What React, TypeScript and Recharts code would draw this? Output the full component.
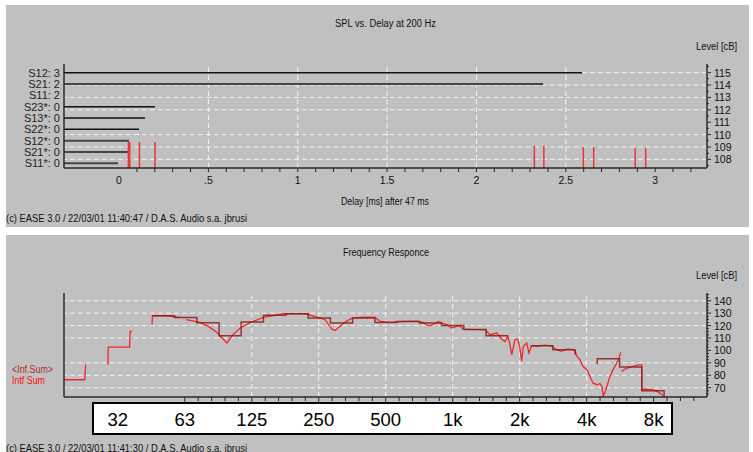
import React from 'react';
import { ComposedChart, XAxis, YAxis, ReferenceLine, Line } from 'recharts';

const FONT = 'Arial, "Liberation Sans", sans-serif';

// ---------- Top chart: SPL vs. Delay at 200 Hz ----------
// index 0 = bottom row
const arrivalLabels = ['S11*: 0', 'S21*: 0', 'S12*: 0', 'S22*: 0', 'S13*: 0', 'S23*: 0', 'S11: 2', 'S21: 2', 'S12: 3'];
const arrivalDelaysMs: (number | null)[] = [-0.006, 0.05, 0.056, 0.112, 0.145, 0.201, null, 2.373, 2.591];
const reflectionDelaysMs = [0.052, 0.06, 0.114, 0.201, 2.324, 2.377, 2.598, 2.656, 2.888, 2.947];
const reflectionLevelsDb = [109.4, 109.4, 109.4, 109.4, 109.1, 109.1, 109.0, 109.0, 108.9, 108.9];
const delayTicks = [0, 0.1, 0.2, 0.3, 0.4, 0.5, 0.6, 0.7, 0.8, 0.9, 1, 1.1, 1.2, 1.3, 1.4, 1.5, 1.6, 1.7, 1.8, 1.9, 2, 2.1, 2.2, 2.3, 2.4, 2.5, 2.6, 2.7, 2.8, 2.9, 3, 3.1, 3.2];
const delayLabelValues = [0, 0.5, 1, 1.5, 2, 2.5, 3];
const delayLabelTexts = ['0', '.5', '1', '1.5', '2', '2.5', '3'];
const delayGrid = [0.5, 1, 1.5, 2, 2.5];
const splTicks = [107.5, 108, 108.5, 109, 109.5, 110, 110.5, 111, 111.5, 112, 112.5, 113, 113.5, 114, 114.5, 115, 115.5];
const splGrid = [108, 109, 110, 112, 113, 114, 115];
const DELAY_DOMAIN: [number, number] = [-0.308, 3.29];
const SPL_DOMAIN: [number, number] = [107.3, 115.7];
const ROW_DOMAIN: [number, number] = [-0.415, 8.77];

// ---------- Bottom chart: Frequency Responce ----------
// 1/3-octave band edges (Hz) and band levels (dB); null = band not drawn
const bandEdgeHz = [44.7, 56.2, 70.8, 89.1, 112, 141, 178, 224, 282, 355, 447, 562, 708, 891, 1122, 1413, 1778, 1779, 2239, 2818, 3548, 3549, 4466, 4467, 5623, 7079, 8913];
const bandLevelDb: (number | null)[] = [127.9, 126.4, 122.2, 111.8, 122.8, 128.2, 129.5, 126.0, 122.0, 126.0, 122.5, 123.3, 122.0, 120.1, 116.8, 111.8, 111.8, null, 103.8, 100.6, 96.5, null, 89.3, 93.3, 86.6, 67.6, 62.5];

const responseHz = [17.9, 22.2, 22.4, 25, 28.2, 28.3, 35.3, 35.5, 36.3, 40, 44.5, 44.7, 51.5, 55.6, 59.6, 61.5, 63.4, 69.4, 73.3, 79.9, 87.4, 96.6, 102, 110.8, 125, 141, 173, 217, 253, 267, 286, 296, 312, 328, 353, 400, 448, 472, 523, 610, 698, 740, 764, 790, 818, 862, 900, 940, 990, 1040, 1078, 1112, 1200, 1397, 1471, 1577, 1660, 1718, 1767, 1809, 1841, 1905, 1959, 2006, 2042, 2076, 2150, 2202, 2264, 2400, 2600, 2794, 2900, 3088, 3252, 3436, 3544, 3618, 3732, 3850, 4012, 4138, 4269, 4450, 4591, 4686, 4751, 4884, 5091, 5252, 5416, 5587, 5645, 5704, 5730, 5744, 5945, 6261, 6944, 7066, 7080, 7311, 7861, 8277, 8627, 8808];
const responseDb: (number | null)[] = [76.4, 76.4, 88.5, null, 88.7, 102.7, 102.7, 115.3, 115.3, null, 120.7, 127.9, 127.9, 127.2, 126.3, null, 124.7, 123.3, 122.5, 119.3, 114.2, 106.0, 111.8, 118.0, 122.9, 126.6, 129.5, 129.5, 126.1, 124.7, 117.2, 116.1, 119.5, 122.8, 126.0, 126.8, 126.6, 123.3, 122.5, 123.3, 123.3, 122.4, 120.3, 119.9, 121.0, 123.3, 121.8, 120.7, 118.0, 119.3, 119.9, 117.2, 116.9, 116.7, 112.6, 114.0, 109.2, 107.2, 111.3, 104.6, 96.5, 108.6, 109.2, 101.9, 91.2, 103.2, 106.0, 97.9, 103.8, 103.2, 104.2, 103.4, 101.0, 99.2, 101.1, 100.9, 99.5, 95.2, 92.5, 87.0, 84.5, 79.1, 73.8, 72.4, 73.2, 71.1, 63.0, 68.4, 79.1, 84.5, 88.5, 93.9, 96.5, 98.4, null, 83.1, 85.0, 86.6, 88.5, 88.5, 68.4, 68.9, 68.4, 67.0, 65.2, 63.6];

const freqMajorHz = [31.25, 62.5, 125, 250, 500, 1000, 2000, 4000, 8000];
const freqLabels = ['32', '63', '125', '250', '500', '1k', '2k', '4k', '8k'];
const freqGridHz = [125, 250, 500, 1000, 2000, 4000];
const FREQ_DOMAIN: [number, number] = [17.9, 13900];
const freqMinorHz = freqMajorHz
  .filter((f) => f >= 62.5)
  .flatMap((f) => [1, 2, 3, 4].map((k) => f * Math.pow(2, k / 5)))
  .filter((f) => f < FREQ_DOMAIN[1]);
const freqTicks = [...freqMajorHz, ...freqMinorHz].sort((a, b) => a - b);
const dbTicks = [65, 67.5, 70, 72.5, 75, 77.5, 80, 82.5, 85, 87.5, 90, 92.5, 95, 97.5, 100, 102.5, 105, 107.5, 110, 112.5, 115, 117.5, 120, 122.5, 125, 127.5, 130, 132.5, 135, 137.5, 140, 142.5, 145];
const dbGrid = [70, 80, 90, 110, 120, 130, 140];
const DB_DOMAIN: [number, number] = [62.5, 146.2];

const stepData = bandEdgeHz.map((f, i) => ({ f, v: bandLevelDb[i] }));
const responseData = responseHz.map((f, i) => ({ f, v: responseDb[i] }));

const AXIS = '#2a2a2a';
const GRID = '#f2f2f2';

const DelayTick = (p: any) => {
  const { x, y, payload } = p;
  const v = payload.value;
  const idx = delayLabelValues.indexOf(v);
  return (
    <g>
      {v > 0.05 && <line x1={x} y1={y} x2={x} y2={y + 4} stroke={AXIS} strokeWidth={1} />}
      {idx >= 0 && (
        <text x={x} y={y + 15.5} textAnchor="middle" fontSize={10.5} fontFamily={FONT} fill="#111">
          {delayLabelTexts[idx]}
        </text>
      )}
    </g>
  );
};

const makeRightTick = (step: number) => (p: any) => {
  const { x, y, payload } = p;
  const v = payload.value;
  const major = Math.abs(v / step - Math.round(v / step)) < 1e-9;
  return (
    <g>
      <line x1={x} y1={y} x2={x + (major ? 4 : 2)} y2={y} stroke={AXIS} strokeWidth={1} />
      {major && (
        <text x={x + 7} y={y + 4} textAnchor="start" fontSize={10.5} fontFamily={FONT} fill="#111">
          {v}
        </text>
      )}
    </g>
  );
};
const SplTick = makeRightTick(1);
const DbTick = makeRightTick(10);

const FreqTick = (p: any) => {
  const { x, y, payload } = p;
  const v = payload.value;
  const idx = freqMajorHz.indexOf(v);
  return (
    <g>
      {v >= 60 && <line x1={x} y1={y} x2={x} y2={y + (idx >= 0 ? 5 : 4)} stroke={AXIS} strokeWidth={1} />}
      {idx >= 0 && (
        <text x={x} y={y + 28.7} textAnchor="middle" fontSize={18.5} fontFamily={FONT} fill="#000">
          {freqLabels[idx]}
        </text>
      )}
    </g>
  );
};

const axisLine = { stroke: AXIS, strokeWidth: 1.5 };

function DelayChart() {
  return (
    <ComposedChart width={743} height={222} margin={{ top: 59, right: 0, bottom: 29, left: 0 }}>
      <XAxis
        type="number"
        dataKey="x"
        domain={DELAY_DOMAIN}
        allowDataOverflow
        ticks={delayTicks}
        interval={0}
        tick={(p: any) => <DelayTick {...p} />}
        tickLine={false}
        tickSize={0}
        tickMargin={0}
        axisLine={axisLine}
        height={30}
      />
      <YAxis
        yAxisId="lab"
        type="number"
        domain={ROW_DOMAIN}
        allowDataOverflow
        ticks={[0, 1, 2, 3, 4, 5, 6, 7, 8]}
        interval={0}
        tickFormatter={(v: number) => arrivalLabels[v]}
        tick={{ fontSize: 11, fill: '#222', fontFamily: FONT }}
        tickLine={false}
        tickSize={0}
        tickMargin={4}
        axisLine={axisLine}
        width={58}
      />
      <YAxis
        yAxisId="lvl"
        orientation="right"
        type="number"
        domain={SPL_DOMAIN}
        allowDataOverflow
        ticks={splTicks}
        interval={0}
        tick={(p: any) => <SplTick {...p} />}
        tickLine={false}
        tickSize={0}
        tickMargin={0}
        axisLine={axisLine}
        width={42}
      />
      {splGrid.map((v) => (
        <ReferenceLine key={'h' + v} yAxisId="lvl" y={v} stroke={GRID} strokeDasharray="5 3" />
      ))}
      {delayGrid.map((d) => (
        <ReferenceLine key={'v' + d} yAxisId="lvl" x={d} stroke={GRID} strokeDasharray="5 3" />
      ))}
      {arrivalDelaysMs.map((d, i) =>
        d == null ? null : (
          <ReferenceLine
            key={'a' + i}
            yAxisId="lab"
            ifOverflow="visible"
            segment={[
              { x: DELAY_DOMAIN[0], y: i },
              { x: d, y: i },
            ]}
            stroke={i === 7 || i <= 2 ? '#454545' : '#111'}
            strokeWidth={i === 7 || i <= 2 ? 2 : 1.5}
          />
        )
      )}
      {reflectionDelaysMs.map((d, i) => (
        <ReferenceLine
          key={'r' + i}
          yAxisId="lvl"
          ifOverflow="visible"
          segment={[
            { x: d, y: SPL_DOMAIN[0] },
            { x: d, y: reflectionLevelsDb[i] },
          ]}
          stroke="#ec3434"
          strokeWidth={1.5}
        />
      ))}
    </ComposedChart>
  );
}

function FrequencyChart() {
  return (
    <ComposedChart width={743} height={217} margin={{ top: 58, right: 0, bottom: 25, left: 0 }}>
      <XAxis
        type="number"
        dataKey="f"
        scale="log"
        domain={FREQ_DOMAIN}
        allowDataOverflow
        ticks={freqTicks}
        interval={0}
        tick={(p: any) => <FreqTick {...p} />}
        tickLine={false}
        tickSize={0}
        tickMargin={0}
        axisLine={axisLine}
        height={30}
      />
      <YAxis yAxisId="dbL" type="number" domain={DB_DOMAIN} allowDataOverflow tick={false} tickLine={false} axisLine={axisLine} width={58} />
      <YAxis
        yAxisId="db"
        orientation="right"
        type="number"
        domain={DB_DOMAIN}
        allowDataOverflow
        ticks={dbTicks}
        interval={0}
        tick={(p: any) => <DbTick {...p} />}
        tickLine={false}
        tickSize={0}
        tickMargin={0}
        axisLine={axisLine}
        width={42}
      />
      {dbGrid.map((v) => (
        <ReferenceLine key={'h' + v} yAxisId="db" y={v} stroke={GRID} strokeDasharray="5 3" />
      ))}
      {freqGridHz.map((f) => (
        <ReferenceLine key={'v' + f} yAxisId="db" x={f} stroke={GRID} strokeDasharray="5 3" />
      ))}
      <Line
        yAxisId="db"
        data={responseData}
        dataKey="v"
        type="linear"
        stroke="#f02828"
        strokeWidth={1.3}
        dot={false}
        connectNulls={false}
        isAnimationActive={false}
      />
      <Line
        yAxisId="db"
        data={stepData}
        dataKey="v"
        type="stepAfter"
        stroke="#8c1c1c"
        strokeOpacity={0.85}
        strokeWidth={1.5}
        dot={false}
        connectNulls={false}
        isAnimationActive={false}
      />
    </ComposedChart>
  );
}

export default function App() {
  const txt = { fontFamily: FONT, fill: '#111' } as const;
  return (
    <div style={{ position: 'absolute', left: 0, top: 0, width: 753, height: 452, background: '#fff', overflow: 'hidden' }}>
      <div style={{ position: 'absolute', left: 6, top: 5, width: 743, height: 222, background: '#c0c0c0' }} />
      <div style={{ position: 'absolute', left: 6, top: 235, width: 743, height: 217, background: '#c0c0c0' }} />
      <div
        style={{
          position: 'absolute',
          left: 92,
          top: 402,
          width: 581,
          height: 33,
          background: '#fff',
          border: '2px solid #000',
          boxSizing: 'border-box',
        }}
      />
      <div style={{ position: 'absolute', left: 6, top: 5 }}>
        <DelayChart />
      </div>
      <div style={{ position: 'absolute', left: 6, top: 235 }}>
        <FrequencyChart />
      </div>
      <svg width={753} height={452} style={{ position: 'absolute', left: 0, top: 0, pointerEvents: 'none' }}>
        <text x={335} y={27} fontSize={10} textLength={101} lengthAdjust="spacingAndGlyphs" {...txt}>SPL vs. Delay at  200 Hz</text>
        <text x={696} y={49.5} fontSize={10.5} textLength={41} lengthAdjust="spacingAndGlyphs" {...txt}>Level [cB]</text>
        <text x={341} y={205} fontSize={10} textLength={88} lengthAdjust="spacingAndGlyphs" {...txt}>Delay [ms] after 47 ms</text>
        <text x={6} y={222} fontSize={11} textLength={241} lengthAdjust="spacingAndGlyphs" {...txt}>(c) EASE 3.0 / 22/03/01 11:40:47 / D.A.S. Audio s.a. jbrusi</text>
        <text x={343} y={256} fontSize={10} textLength={86} lengthAdjust="spacingAndGlyphs" {...txt}>Frequency Responce</text>
        <text x={696} y={279} fontSize={10.5} textLength={41} lengthAdjust="spacingAndGlyphs" {...txt}>Level [cB]</text>
        <text x={12} y={373} fontSize={10.5} textLength={41} lengthAdjust="spacingAndGlyphs" fontFamily={FONT} fill="#b42a2a">&lt;Inf.Sum&gt;</text>
        <text x={12} y={384} fontSize={10.5} textLength={33} lengthAdjust="spacingAndGlyphs" fontFamily={FONT} fill="#ff1010">Intf Sum</text>
        <text x={6} y={451.5} fontSize={11} textLength={241} lengthAdjust="spacingAndGlyphs" {...txt}>(c) EASE 3.0 / 22/03/01 11:41:30 / D.A.S. Audio s.a. jbrusi</text>
      </svg>
    </div>
  );
}
